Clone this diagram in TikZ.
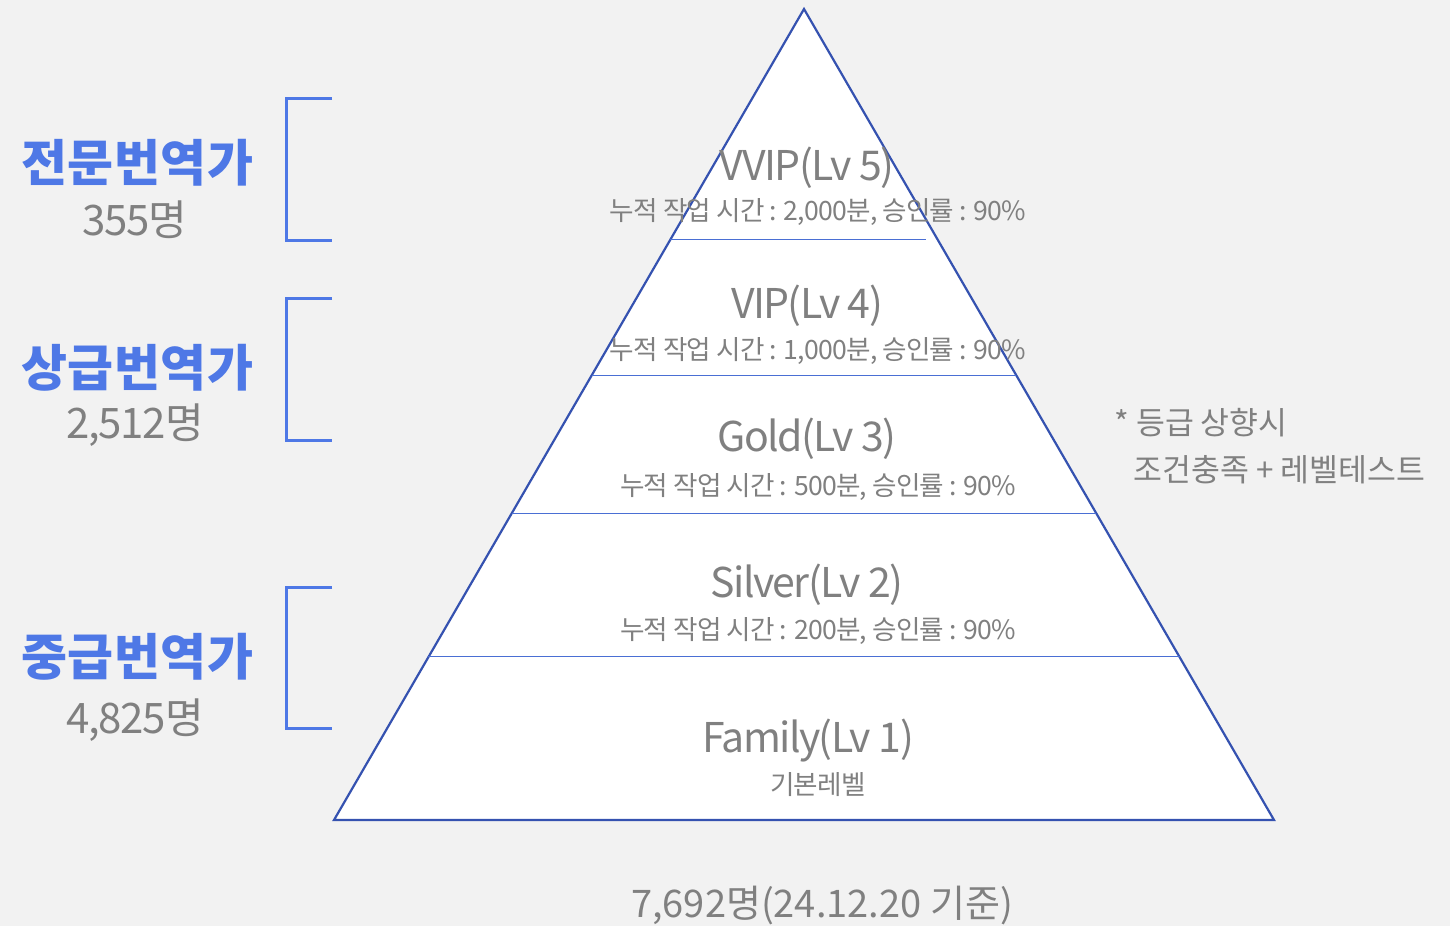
\documentclass[tikz,border=0pt]{standalone}
\usepackage{fontspec}
\setmainfont{Noto Sans CJK KR}
\usetikzlibrary{calc}
\definecolor{bgcol}{HTML}{F2F2F2}
\definecolor{edgeblue}{HTML}{3552B0}
\definecolor{lineblue}{HTML}{4A6FD4}
\definecolor{labelblue}{HTML}{4E78E6}
\definecolor{txtgray}{HTML}{808080}
\begin{document}
\begin{tikzpicture}[x=0.5pt,y=-0.5pt,
	tiertitle/.style={text=txtgray,inner sep=0pt,font=\fontsize{20.5}{24}\selectfont\addfontfeatures{LetterSpace=-4}},
	tierinfo/.style={text=txtgray,inner sep=0pt,font=\fontsize{13.3}{16}\selectfont\addfontfeatures{LetterSpace=-3}},
	grouplabel/.style={text=labelblue,inner sep=0pt,font=\bfseries\fontsize{25}{28}\selectfont\addfontfeatures{LetterSpace=1}},
	groupcount/.style={text=txtgray,inner sep=0pt,font=\fontsize{21}{24}\selectfont\addfontfeatures{LetterSpace=-3}},
	notetext/.style={text=txtgray,inner sep=0pt,anchor=west,font=\fontsize{15.7}{18}\selectfont},
	bracket/.style={draw=labelblue,line width=1.5pt},
	divider/.style={draw=lineblue,line width=0.5pt}]
	\fill[bgcol] (0,0) rectangle (1450,926);
	\coordinate (apex) at (804,9);
	\coordinate (bl) at (334,820);
	\coordinate (br) at (1274,820);
	\filldraw[fill=white,draw=edgeblue,line width=1.1pt,line join=miter] (apex) -- (bl) -- (br) -- cycle;
	% tier borders
	\coordinate (d1l) at ($(apex)!0.2848!(bl)$);
	\coordinate (d1r) at ($(apex)!0.2848!(br)$);
	\coordinate (d2l) at ($(apex)!0.4513!(bl)$);
	\coordinate (d2r) at ($(apex)!0.4513!(br)$);
	\coordinate (d3l) at ($(apex)!0.6215!(bl)$);
	\coordinate (d3r) at ($(apex)!0.6215!(br)$);
	\coordinate (d4l) at ($(apex)!0.7990!(bl)$);
	\coordinate (d4r) at ($(apex)!0.7990!(br)$);
	\draw[divider] (d1l) -- ($(d1r)+(-12,0)$);
	\draw[divider] (d2l) -- (d2r);
	\draw[divider] (d3l) -- (d3r);
	\draw[divider] (d4l) -- (d4r);
	% tiers
	\node[tiertitle] (vviptitle) at (807,168) {VVIP(Lv 5)};
	\node[tierinfo] (vvipinfo) at (818,212) {누적 작업 시간 : 2,000분, 승인률 : 90\%};
	\node[tiertitle] (viptitle) at (807,306) {VIP(Lv 4)};
	\node[tierinfo] (vipinfo) at (818,351) {누적 작업 시간 : 1,000분, 승인률 : 90\%};
	\node[tiertitle] (goldtitle) at (807,439) {Gold(Lv 3)};
	\node[tierinfo] (goldinfo) at (818,487) {누적 작업 시간 : 500분, 승인률 : 90\%};
	\node[tiertitle] (silvertitle) at (807,585) {Silver(Lv 2)};
	\node[tierinfo] (silverinfo) at (818,631) {누적 작업 시간 : 200분, 승인률 : 90\%};
	\node[tiertitle] (familytitle) at (808,741) {Family(Lv 1)};
	\node[tierinfo] (familyinfo) at (818,785) {기본레벨};
	% groups
	\node[grouplabel] (expert) at (137,163) {전문번역가};
	\node[groupcount] (expertcount) at (135,220) {355명};
	\draw[bracket] (332,98) -| (286,240) -- (332,240);
	\node[grouplabel] (senior) at (137,368) {상급번역가};
	\node[groupcount] (seniorcount) at (135,425) {2,512명};
	\draw[bracket] (332,298) -| (286,440) -- (332,440);
	\node[grouplabel] (middle) at (137,657) {중급번역가};
	\node[groupcount] (middlecount) at (135,720) {4,825명};
	\draw[bracket] (332,587) -| (286,728) -- (332,728);
	% note
	\node[notetext] (note1) at (1114,423) {* 등급 상향시};
	\node[notetext] (note2) at (1133,470) {조건충족 + 레벨테스트};
	\node[text=txtgray,inner sep=0pt,font=\fontsize{19}{22}\selectfont] (total) at (822,905) {7,692명(24.12.20 기준)};
\end{tikzpicture}
\end{document}
